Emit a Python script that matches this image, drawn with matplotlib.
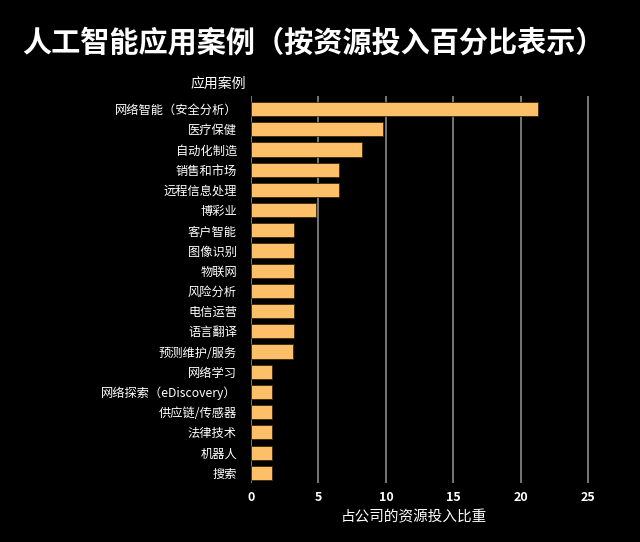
import matplotlib
matplotlib.use("Agg")
import matplotlib.pyplot as plt

plt.rcParams['font.family'] = ['Noto Sans CJK SC', 'DejaVu Sans']

# 应用案例 和 资源投入比重 (%)
categories = [
    "网络智能（安全分析）", "医疗保健", "自动化制造", "销售和市场", "远程信息处理",
    "博彩业", "客户智能", "图像识别", "物联网", "风险分析", "电信运营", "语言翻译",
    "预测维护/服务", "网络学习", "网络探索（eDiscovery）", "供应链/传感器",
    "法律技术", "机器人", "搜索",
]
values = [21.3, 9.8, 8.2, 6.5, 6.5, 4.8, 3.2, 3.2, 3.2, 3.2, 3.2, 3.2, 3.1,
          1.6, 1.6, 1.6, 1.6, 1.6, 1.6]
xticks = [0, 5, 10, 15, 20, 25]

fig = plt.figure(figsize=(6.4, 5.42), dpi=100, facecolor="black")
ax = fig.add_axes([0.392, 0.109, 0.58, 0.714])
ax.set_facecolor("black")

ypos = list(range(len(categories)))
ax.barh(ypos, values, height=0.7, color="#FDC068", edgecolor="#3a2a10",
        linewidth=0.6, zorder=3)

ax.set_xlim(0, 27.5)
ax.set_ylim(18.5, -0.65)
ax.set_xticks(xticks)
ax.set_xticklabels([str(t) for t in xticks], color="white", fontsize=9,
                   fontweight="bold")
ax.set_yticks(ypos)
ax.set_yticklabels(categories, color="white", fontsize=8.8)
ax.tick_params(axis="both", length=0)
ax.tick_params(axis="y", pad=10)
ax.tick_params(axis="x", pad=6)

ax.grid(axis="x", color="#808080", linewidth=1.3, zorder=1)
for s in ax.spines.values():
    s.set_visible(False)

ax.set_xlabel("占公司的资源投入比重", color="white", fontsize=10.5,
              fontstyle="italic", labelpad=2)
ax.xaxis.set_label_coords(0.44, -0.07)

fig.text(0.385, 0.845, "应用案例", color="white", fontsize=10,
         fontstyle="italic", ha="right", va="center")

fig.text(0.49, 0.922, "人工智能应用案例（按资源投入百分比表示）", color="white",
         fontsize=21, fontweight="bold", ha="center", va="center")

fig.savefig("out.png", dpi=100, facecolor="black")
